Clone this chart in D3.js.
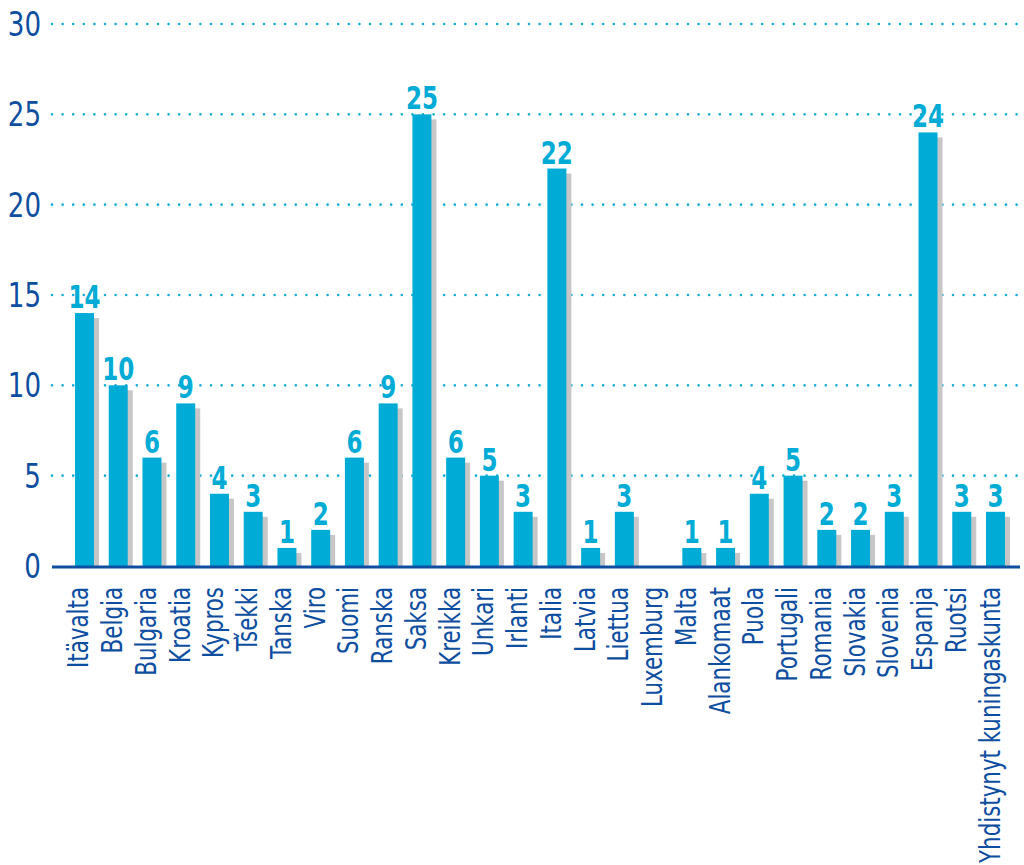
<!DOCTYPE html>
<html>
<head>
<meta charset="utf-8">
<script src="https://cdn.jsdelivr.net/npm/d3@7"></script>
<style>
  html, body { margin: 0; padding: 0; background: #ffffff; }
  svg { display: block; }
</style>
</head>
<body>
<svg id="chart" width="1024" height="865"></svg>
<script>
const categories = ["Itävalta","Belgia","Bulgaria","Kroatia","Kypros","Tšekki","Tanska","Viro","Suomi","Ranska","Saksa","Kreikka","Unkari","Irlanti","Italia","Latvia","Liettua","Luxemburg","Malta","Alankomaat","Puola","Portugali","Romania","Slovakia","Slovenia","Espanja","Ruotsi","Yhdistynyt kuningaskunta"];
const values = [14,10,6,9,4,3,1,2,6,9,25,6,5,3,22,1,3,0,1,1,4,5,2,2,3,24,3,3];
const yTicks = [0,5,10,15,20,25,30];

const svg = d3.select("#chart");
const blue = "#0d4ea0", cyan = "#00acd6", grey = "#c7c7c7";
const font = "'DejaVu Sans Condensed', 'DejaVu Sans', sans-serif";

const x = d3.scaleBand().domain(categories).range([75, 1005]).paddingInner(0.437).paddingOuter(0);
const y = d3.scaleLinear().domain([0, 30]).range([566, 24]);

// gridlines
svg.append("g").selectAll("line").data(yTicks.filter(d => d > 0)).join("line")
  .attr("x1", 52).attr("x2", 1022)
  .attr("y1", d => y(d)).attr("y2", d => y(d))
  .attr("stroke", "#12acd9").attr("stroke-width", 2.6)
  .attr("stroke-linecap", "round")
  .attr("stroke-dasharray", "0 10.6");

// y tick labels
svg.append("g").selectAll("text").data(yTicks).join("text")
  .attr("transform", d => `translate(41,${y(d)}) scale(0.88,1)`)
  .attr("text-anchor", "end").attr("dy", "0.36em")
  .attr("font-family", font).attr("font-size", 33)
  .attr("fill", blue).text(d => d);

const data = categories.map((c, i) => ({c, v: values[i]}));
const bars = data.filter(d => d.v > 0);

// shadows
svg.append("g").selectAll("rect").data(bars).join("rect")
  .attr("x", d => x(d.c) + 5).attr("width", x.bandwidth())
  .attr("y", d => y(d.v) + 5).attr("height", d => Math.max(0, y(0) - y(d.v) - 5))
  .attr("fill", grey);

// bars
svg.append("g").selectAll("rect").data(bars).join("rect")
  .attr("x", d => x(d.c)).attr("width", x.bandwidth())
  .attr("y", d => y(d.v)).attr("height", d => y(0) - y(d.v))
  .attr("fill", cyan);

// baseline
svg.append("line").attr("x1", 52).attr("x2", 1020)
  .attr("y1", y(0) + 1).attr("y2", y(0) + 1)
  .attr("stroke", blue).attr("stroke-width", 3);

// value labels
svg.append("g").selectAll("text").data(bars).join("text")
  .attr("transform", d => `translate(${x(d.c) + x.bandwidth() / 2},${y(d.v) - 5}) scale(0.8,1)`)
  .attr("text-anchor", "middle")
  .attr("font-family", font).attr("font-weight", "bold").attr("font-size", 32)
  .attr("fill", cyan).text(d => d.v);

// x labels
svg.append("g").selectAll("text").data(categories).join("text")
  .attr("transform", d => `translate(${x(d) + x.bandwidth() / 2 + 4},587) rotate(-90) scale(0.82,1)`)
  .attr("text-anchor", "end")
  .attr("font-family", font).attr("font-size", 29)
  .attr("fill", blue).text(d => d);
</script>
</body>
</html>
